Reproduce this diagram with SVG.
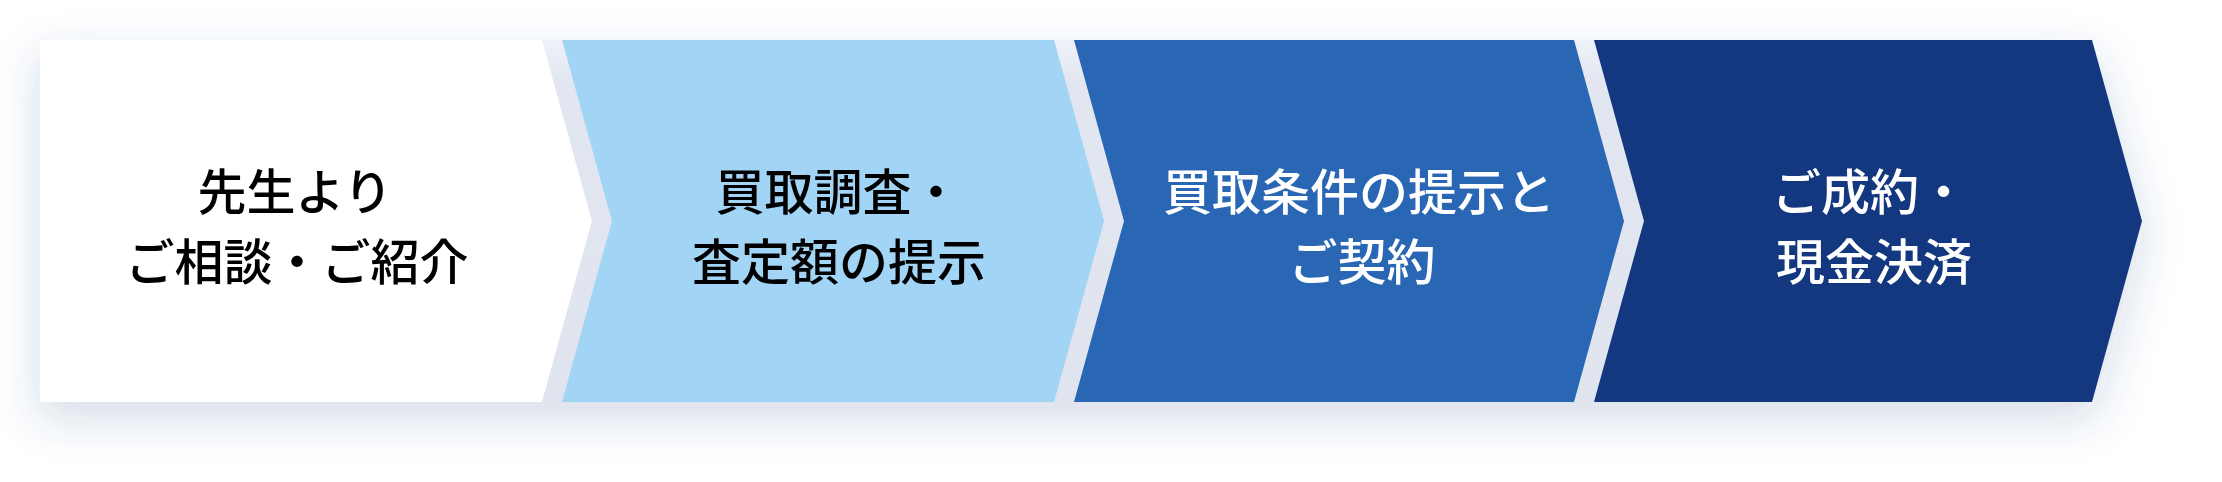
<svg xmlns="http://www.w3.org/2000/svg" width="2222" height="482" viewBox="0 0 2222 482">
  <defs>
    <filter id="shadow" x="-10%" y="-50%" width="120%" height="200%">
      <feGaussianBlur in="SourceAlpha" stdDeviation="22" result="b"/>
      <feOffset in="b" dx="0" dy="16" result="o"/>
      <feFlood flood-color="#2a4a8c" flood-opacity="0.2"/>
      <feComposite in2="o" operator="in"/>
    </filter>
    <linearGradient id="gapGrad" x1="0" y1="0" x2="0" y2="1">
      <stop offset="0" stop-color="#eef1f7"/>
      <stop offset="0.12" stop-color="#e2e6f0"/>
      <stop offset="1" stop-color="#dfe4ee"/>
    </linearGradient>
  </defs>
  <style>
    .label { font-family: "Noto Sans CJK JP", "Noto Sans", sans-serif; font-size: 49px; font-weight: 500; text-anchor: middle; }
    .dark { fill: #000000; }
    .light { fill: #ffffff; }
  </style>
  <rect width="2222" height="482" fill="#ffffff"/>
  <g id="shadow-layer">
    <polygon points="40,40 2092,40 2142,221 2092,402 40,402" fill="#000" filter="url(#shadow)"/>
  </g>
  <g id="connectors">
    <polygon points="542,40 562,40 612,221 562,402 542,402 592,221" fill="url(#gapGrad)"/>
    <polygon points="1054,40 1074,40 1124,221 1074,402 1054,402 1104,221" fill="url(#gapGrad)"/>
    <polygon points="1574,40 1594,40 1644,221 1594,402 1574,402 1624,221" fill="url(#gapGrad)"/>
  </g>
  <g id="step1">
    <polygon points="40,40 542,40 592,221 542,402 40,402" fill="#ffffff"/>
    <text class="label dark" x="295" y="210">先生より</text>
    <text class="label dark" x="297" y="280">ご相談・ご紹介</text>
  </g>
  <g id="step2">
    <polygon points="562,40 1054,40 1104,221 1054,402 562,402 612,221" fill="#a2d5f5"/>
    <text class="label dark" x="838" y="210">買取調査・</text>
    <text class="label dark" x="839" y="280">査定額の提示</text>
  </g>
  <g id="step3">
    <polygon points="1074,40 1574,40 1624,221 1574,402 1074,402 1124,221" fill="#2967b4"/>
    <text class="label light" x="1359" y="210">買取条件の提示と</text>
    <text class="label light" x="1362" y="280">ご契約</text>
  </g>
  <g id="step4">
    <polygon points="1594,40 2092,40 2142,221 2092,402 1594,402 1644,221" fill="#13387f"/>
    <text class="label light" x="1870" y="210">ご成約・</text>
    <text class="label light" x="1874" y="280">現金決済</text>
  </g>
</svg>
